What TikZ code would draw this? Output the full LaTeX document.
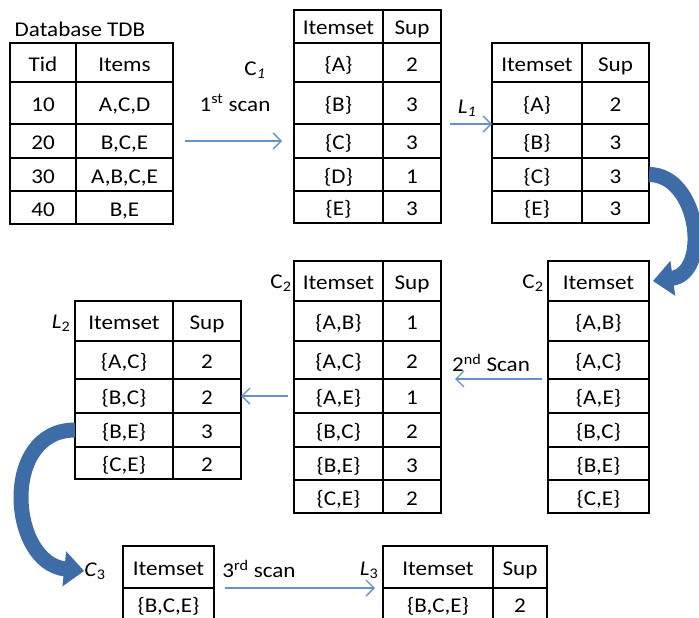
\documentclass[tikz,border=0pt]{standalone}
\usepackage{fontspec}
\setmainfont[FakeStretch=1.1]{Carlito}
\usetikzlibrary{arrows.meta}
\definecolor{bigarrow}{HTML}{3E6CA6}
\definecolor{thinarrow}{HTML}{6392CF}

\begin{document}
\begin{tikzpicture}[x=1pt, y=-1pt,
  cell/.style={draw, line width=1.3pt, anchor=north west, outer sep=0pt, inner sep=0pt, text height=19pt, text depth=2pt, font=\fontsize{21}{25}\selectfont},
  lab/.style={inner sep=0pt, font=\fontsize{21}{25}\selectfont},
  thinarr/.style={-{Straight Barb[length=8pt, width=16pt]}, line width=1.3pt, thinarrow},
  bigarr/.style={-{Triangle[length=20pt, width=34pt]}, line width=15pt, bigarrow}
]
  \useasboundingbox (0,0) rectangle (699,618);
  \clip (0,0) rectangle (699,618);

  % Database TDB
  \node[lab] (dbtitle) at (80,29) {Database TDB};
  \foreach \ya/\yb/\ca/\cb [count=\i] in {43/82/Tid/Items, 82/124/10/{A,C,D}, 124/158/20/{B,C,E}, 158/191/30/{A,B,C,E}, 191/224/40/{B,E}} {
    \node[cell, minimum width=66, minimum height=\yb-\ya] (tdb-\i-1) at (10,\ya) {\ca};
    \node[cell, minimum width=97, minimum height=\yb-\ya] (tdb-\i-2) at (76,\ya) {\cb};
  }

  % C1
  \foreach \ya/\yb/\ca/\cb [count=\i] in {10/43/Itemset/Sup, 43/82/{\{A\}}/2, 82/124/{\{B\}}/3, 124/158/{\{C\}}/3, 158/191/{\{D\}}/1, 191/223/{\{E\}}/3} {
    \node[cell, minimum width=89, minimum height=\yb-\ya] (c1-\i-1) at (294,\ya) {\ca};
    \node[cell, minimum width=58, minimum height=\yb-\ya] (c1-\i-2) at (383,\ya) {\cb};
  }
  \node[lab] (c1lab) at (255,70) {C\textsubscript{\textit{1}}};
  \node[lab] (scan1) at (235,103) {1\textsuperscript{st} scan};

  % L1
  \foreach \ya/\yb/\ca/\cb [count=\i] in {43/82/Itemset/Sup, 82/124/{\{A\}}/2, 124/158/{\{B\}}/3, 158/191/{\{C\}}/3, 191/223/{\{E\}}/3} {
    \node[cell, minimum width=90, minimum height=\yb-\ya] (l1-\i-1) at (492,\ya) {\ca};
    \node[cell, minimum width=67, minimum height=\yb-\ya] (l1-\i-2) at (582,\ya) {\cb};
  }
  \node[lab] (l1lab) at (467,108) {\textit{L}\textsubscript{\textit{1}}};

  % C2 with support
  \foreach \ya/\yb/\ca/\cb [count=\i] in {261/301/Itemset/Sup, 301/341/{\{A,B\}}/1, 341/379/{\{A,C\}}/2, 379/413/{\{A,E\}}/1, 413/447/{\{B,C\}}/2, 447/480/{\{B,E\}}/3, 480/513/{\{C,E\}}/2} {
    \node[cell, minimum width=89, minimum height=\yb-\ya] (c2m-\i-1) at (294,\ya) {\ca};
    \node[cell, minimum width=58, minimum height=\yb-\ya] (c2m-\i-2) at (383,\ya) {\cb};
  }
  \node[lab] (c2mlab) at (281,283) {C\textsubscript{2}};

  % C2 candidates
  \foreach \ya/\yb/\ca [count=\i] in {261/301/Itemset, 301/341/{\{A,B\}}, 341/379/{\{A,C\}}, 379/413/{\{A,E\}}, 413/447/{\{B,C\}}, 447/480/{\{B,E\}}, 480/513/{\{C,E\}}} {
    \node[cell, minimum width=101, minimum height=\yb-\ya] (c2r-\i) at (548,\ya) {\ca};
  }
  \node[lab] (c2rlab) at (533,283) {C\textsubscript{2}};
  \node[lab] (scan2) at (491,363) {2\textsuperscript{nd} Scan};

  % L2
  \foreach \ya/\yb/\ca/\cb [count=\i] in {301/341/Itemset/Sup, 341/379/{\{A,C\}}/2, 379/413/{\{B,C\}}/2, 413/447/{\{B,E\}}/3, 447/479/{\{C,E\}}/2} {
    \node[cell, minimum width=98, minimum height=\yb-\ya] (l2-\i-1) at (75,\ya) {\ca};
    \node[cell, minimum width=68, minimum height=\yb-\ya] (l2-\i-2) at (173,\ya) {\cb};
  }
  \node[lab] (l2lab) at (61,323) {\textit{L}\textsubscript{2}};

  % C3 and L3
  \foreach \ya/\yb/\ca [count=\i] in {546/588/Itemset, 588/620/{\{B,C,E\}}} {
    \node[cell, minimum width=91, minimum height=\yb-\ya] (c3-\i) at (123,\ya) {\ca};
  }
  \node[lab] (c3lab) at (95,571) {\textit{C}\textsubscript{3}};
  \node[lab] (scan3) at (259,569) {3\textsuperscript{rd} scan};
  \foreach \ya/\yb/\ca/\cb [count=\i] in {546/588/Itemset/Sup, 588/620/{\{B,C,E\}}/2} {
    \node[cell, minimum width=110, minimum height=\yb-\ya] (l3-\i-1) at (383,\ya) {\ca};
    \node[cell, minimum width=54, minimum height=\yb-\ya] (l3-\i-2) at (493,\ya) {\cb};
  }
  \node[lab] (l3lab) at (369,570) {\textit{L}\textsubscript{3}};

  % thin arrows
  \draw[thinarr, shorten <=12pt, shorten >=12pt] (tdb-3-2.east) -- (c1-4-1.west);
  \draw[thinarr, shorten <=9pt] (c1-3-2.south east) -- (l1-2-1.south west);
  \draw[thinarr, shorten <=6pt, shorten >=14pt] (c2r-3.south west) -- (c2m-3-2.south east);
  \draw[thinarr, shorten <=6pt] (c2m-4-1.west) -- (l2-3-2.east);
  \draw[thinarr, shorten <=11pt, shorten >=8pt] (c3-1.south east) -- (l3-1-1.south west);

  % curved block arrows
  \draw[bigarr] (l1-4-2.east) .. controls +(50,0) and +(58,-8) .. ([xshift=4pt]c2r-1.east);
  \draw[bigarr] (l2-4-1.west) .. controls +(-75,0) and +(-75,-8) .. (c3lab.west);
\end{tikzpicture}
\end{document}
